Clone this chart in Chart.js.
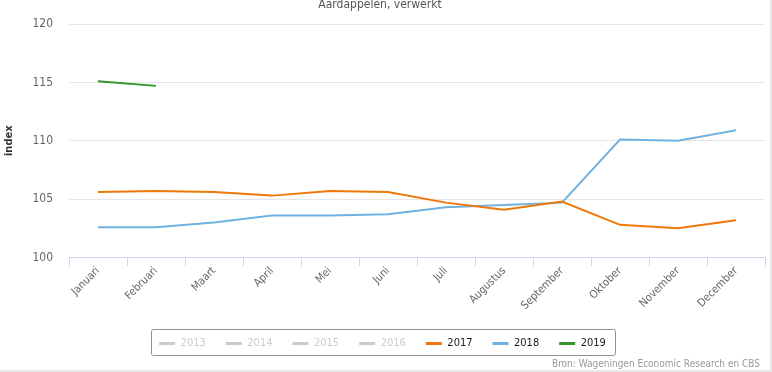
<!DOCTYPE html>
<html>
<head>
<meta charset="utf-8">
<script src="https://cdn.jsdelivr.net/npm/chart.js@4.4.1/dist/chart.umd.min.js"></script>
<style>
  html, body { margin: 0; padding: 0; background: #fff; }
  #wrap { position: relative; width: 772px; height: 372px; }
  #edgeR { position: absolute; left: 770px; top: 0; width: 2px; height: 372px; background: #e8e8e8; }
  #edgeB { position: absolute; left: 0; top: 370px; width: 772px; height: 2px; background: #e8e8e8; }
</style>
</head>
<body>
<div id="wrap">
  <canvas id="myChart" width="772" height="372"></canvas>
  <div id="edgeR"></div>
  <div id="edgeB"></div>
</div>
<script>
'use strict'

// maanden op de x-as
let maanden = ['Januari', 'Februari', 'Maart', 'April', 'Mei', 'Juni', 'Juli', 'Augustus', 'September', 'Oktober', 'November', 'December'];

// indexcijfers per jaar (2013-2016 staan uit in de legenda)
let jaren = ['2013', '2014', '2015', '2016', '2017', '2018', '2019'];
let index2013 = [];
let index2014 = [];
let index2015 = [];
let index2016 = [];
let index2017 = [105.6, 105.7, 105.6, 105.3, 105.7, 105.6, 104.7, 104.1, 104.8, 102.8, 102.5, 103.2];
let index2018 = [102.6, 102.6, 103.0, 103.6, 103.6, 103.7, 104.3, 104.5, 104.7, 110.1, 110.0, 110.9];
let index2019 = [115.1, 114.7];

let yTicks = [100, 105, 110, 115, 120];

let font = '"DejaVu Sans Condensed", "DejaVu Sans", sans-serif';
let kleuren = ['#cccccc', '#cccccc', '#cccccc', '#cccccc', '#ee7808', '#6fb2e2', '#34962a'];
let reeksen = [index2013, index2014, index2015, index2016, index2017, index2018, index2019];

let datasets = [];
for (let i = 0; i < jaren.length; i++) {
  datasets.push({
    label: jaren[i],
    data: reeksen[i],
    borderColor: kleuren[i],
    backgroundColor: kleuren[i],
    borderWidth: 2,
    pointRadius: 0,
    tension: 0,
    hidden: i < 4
  });
}

// titel, bron en kader om de legenda
const extraTekst = {
  id: 'extraTekst',
  afterDraw(chart) {
    let ctx = chart.ctx;
    ctx.save();
    ctx.fillStyle = '#555555';
    ctx.font = '12px ' + font;
    ctx.textAlign = 'center';
    ctx.textBaseline = 'middle';
    ctx.fillText('Aardappelen, verwerkt', 380, 5);

    ctx.fillStyle = '#999999';
    ctx.font = '10px ' + font;
    ctx.textAlign = 'right';
    ctx.fillText('Bron: Wageningen Economic Research en CBS', 760, 364);

    let boxes = chart.legend.legendHitBoxes;
    if (boxes && boxes.length) {
      let first = boxes[0];
      let last = boxes[boxes.length - 1];
      let x1 = first.left - 8.5;
      let x2 = last.left + last.width + 8.5;
      ctx.strokeStyle = '#909090';
      ctx.lineWidth = 1;
      ctx.beginPath();
      ctx.roundRect(Math.round(x1) + 0.5, 329.5, Math.round(x2 - x1), 26, 2);
      ctx.stroke();
    }
    ctx.restore();
  }
};

const config = {
  type: 'line',
  data: { labels: maanden, datasets: datasets },
  options: {
    responsive: false,
    animation: false,
    layout: { padding: { top: 24, right: 7, bottom: 13, left: 0 } },
    plugins: {
      title: { display: false },
      tooltip: { enabled: false },
      legend: {
        position: 'bottom',
        onClick: null,
        labels: {
          boxWidth: 16,
          boxHeight: 3,
          padding: 20,
          font: { family: font, size: 11 },
          generateLabels(chart) {
            return chart.data.datasets.map((ds, i) => ({
              text: ds.label,
              fillStyle: ds.borderColor,
              strokeStyle: ds.borderColor,
              lineWidth: 0,
              hidden: false,
              fontColor: ds.hidden ? '#cccccc' : '#1a1a1a',
              datasetIndex: i
            }));
          }
        }
      }
    },
    scales: {
      x: {
        offset: true,
        afterFit(scale) { scale.height = 60.5; },
        grid: {
          display: true,
          drawOnChartArea: false,
          drawTicks: true,
          tickLength: 9,
          color: '#ccd6eb',
          offset: true
        },
        border: { display: true, color: '#ccd6eb' },
        ticks: {
          minRotation: 45,
          maxRotation: 45,
          padding: -2,
          color: '#666666',
          font: { family: font, size: 11 }
        }
      },
      y: {
        min: 100,
        max: 120,
        afterFit(scale) { scale.width = 69; },
        afterBuildTicks(scale) { scale.ticks = yTicks.map(v => ({ value: v })); },
        grid: { color: '#e6e6e6', drawTicks: false },
        border: { display: false },
        title: {
          display: true,
          text: 'index',
          color: '#333333',
          padding: { top: 3, bottom: 0 },
          font: { family: font, size: 11, weight: 'bold' }
        },
        ticks: {
          padding: 16,
          color: '#666666',
          font: { family: font, size: 12 }
        }
      }
    }
  },
  plugins: [extraTekst]
};

let canvasChart = document.getElementById('myChart');
const myChart = new Chart(canvasChart, config);
</script>
</body>
</html>
